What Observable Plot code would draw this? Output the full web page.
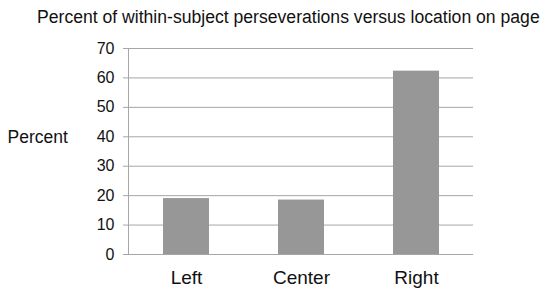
<!DOCTYPE html>
<html>
<head>
<meta charset="utf-8">
<script src="https://cdn.jsdelivr.net/npm/d3@7"></script>
<script src="https://cdn.jsdelivr.net/npm/@observablehq/plot@0.6"></script>
<style>
  html, body { margin: 0; padding: 0; background: #fff; }
  #title { height: 34px; line-height: 34px; font-family: "Liberation Sans", Arial, sans-serif; font-size: 17.6px; color: #111; padding-left: 37px; white-space: nowrap; overflow: hidden; }
  #chart svg { display: block; }
</style>
</head>
<body>
<div id="title">Percent of within-subject perseverations versus location on page</div>
<div id="chart"></div>
<script>
const categories = ["Left", "Center", "Right"];
const values = [19.0, 18.5, 62.3];
const yTicks = [0, 10, 20, 30, 40, 50, 60, 70];
const yLabel = "Percent";

const data = categories.map((c, i) => ({category: c, value: values[i]}));
const gridColor = "#a6a6a6";

const plot = Plot.plot({
  width: 546,
  height: 256,
  marginTop: 14,
  marginBottom: 36,
  marginLeft: 128,
  marginRight: 73,
  style: {fontFamily: "'Liberation Sans', Arial, sans-serif", color: "#111", background: "#fff"},
  x: {domain: categories, paddingInner: 0.6, paddingOuter: 0.3, label: null},
  y: {domain: [0, 70], label: null},
  marks: [
    Plot.gridY(yTicks, {stroke: gridColor, strokeOpacity: 1, strokeWidth: 1}),
    Plot.frame({anchor: "left", stroke: gridColor}),
    Plot.barY(data, {x: "category", y: "value", fill: "#979797"}),
    Plot.axisY(yTicks, {tickSize: 5, tickPadding: 9, fontSize: 16, stroke: gridColor, label: null}),
    Plot.axisX({tickSize: 0, tickPadding: 16, fontSize: 19, label: null}),
    Plot.text([yLabel], {frameAnchor: "left", text: d => d, dx: -121, dy: -14, textAnchor: "start", fontSize: 17.5, lineAnchor: "middle"})
  ]
});
document.getElementById("chart").appendChild(plot);
</script>
</body>
</html>
